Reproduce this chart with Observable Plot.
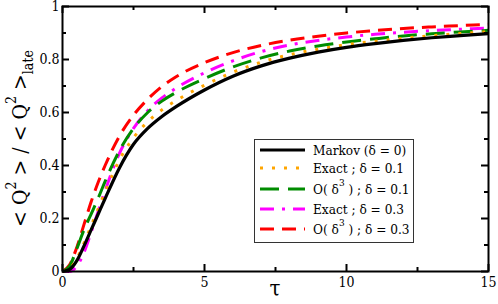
<!DOCTYPE html>
<html>
<head>
<meta charset="utf-8">
<script src="https://cdn.jsdelivr.net/npm/d3@7"></script>
<script src="https://cdn.jsdelivr.net/npm/@observablehq/plot@0.6"></script>
<style>
  html, body { margin: 0; padding: 0; background: #fff; }
  #chart { width: 498px; height: 304px; }
  #chart svg text { font-stretch: semi-condensed; }
</style>
</head>
<body>
<div id="chart"></div>
<script>
// ---- data ----
const tau      = [0, 0.25, 0.5, 0.75, 1, 1.25, 1.5, 2, 2.5, 3, 3.5, 4, 5, 6, 7, 8, 9, 10, 11, 12, 13, 14, 15];
const markov   = [0, 0.008, 0.04, 0.095, 0.155, 0.215, 0.275, 0.39, 0.48, 0.54, 0.585, 0.622, 0.685, 0.737, 0.776, 0.805, 0.828, 0.846, 0.86, 0.872, 0.882, 0.89, 0.898];
const exact01  = [0, 0.01, 0.048, 0.105, 0.17, 0.235, 0.30, 0.42, 0.505, 0.565, 0.61, 0.645, 0.703, 0.752, 0.79, 0.818, 0.839, 0.856, 0.869, 0.88, 0.89, 0.898, 0.905];
const o3d01    = [0, 0.02, 0.085, 0.155, 0.215, 0.275, 0.34, 0.455, 0.54, 0.60, 0.643, 0.676, 0.728, 0.772, 0.806, 0.832, 0.851, 0.866, 0.878, 0.889, 0.897, 0.904, 0.91];
const exact03  = [0, 0.0, 0.02, 0.07, 0.145, 0.225, 0.305, 0.445, 0.54, 0.607, 0.655, 0.692, 0.75, 0.795, 0.83, 0.855, 0.872, 0.885, 0.895, 0.903, 0.909, 0.914, 0.919];
const o3d03    = [0, 0.025, 0.09, 0.175, 0.26, 0.335, 0.40, 0.51, 0.59, 0.65, 0.698, 0.735, 0.788, 0.826, 0.853, 0.873, 0.888, 0.90, 0.909, 0.917, 0.923, 0.928, 0.933];

const xMajor = [0, 5, 10, 15];
const xMinor = [2.5, 7.5, 12.5];
const yMajor = [0, 0.2, 0.4, 0.6, 0.8, 1];
const yMinor = [0.1, 0.3, 0.5, 0.7, 0.9];

const seriesNames = ["Markov (δ = 0)", "Exact ; δ = 0.1", "O( δ3 ) ; δ = 0.1", "Exact ; δ = 0.3", "O( δ3 ) ; δ = 0.3"];
const seriesValues = [markov, exact01, o3d01, exact03, o3d03];

// ---- styles ----
const FONT = "DejaVu Serif";
const styles = [
  {stroke: "#000000", dash: null, width: 3.2},
  {stroke: "#FFA500", dash: "3,9", width: 3},
  {stroke: "#008C00", dash: "19,9", width: 3},
  {stroke: "#FF00FF", dash: "14,8,3,8", width: 3},
  {stroke: "#FF0000", dash: "14,8", width: 3}
];

const W = 498, H = 304;
const mL = 62, mR = 10, mT = 6, mB = 33;
const pw = W - mL - mR, ph = H - mT - mB;

const lineMarks = seriesValues.map((vals, i) => {
  const data = tau.map((t, j) => ({t, v: vals[j]}));
  return Plot.line(data, {
    x: "t", y: "v", curve: "monotone-x",
    stroke: styles[i].stroke, strokeWidth: styles[i].width,
    strokeDasharray: styles[i].dash, strokeLinecap: "butt", strokeLinejoin: "round"
  });
});

const fmtY = d => String(+d.toFixed(1));

const svg = Plot.plot({
  width: W, height: H,
  marginLeft: mL, marginRight: mR, marginTop: mT, marginBottom: mB,
  style: {fontFamily: FONT, fontSize: "14px", color: "#000", background: "#fff", overflow: "visible"},
  x: {domain: [0, 15]},
  y: {domain: [0, 1]},
  marks: [
    ...lineMarks.reverse(),
    Plot.tickX(xMajor, {x: d => d, insetTop: ph - 7, stroke: "#000", strokeWidth: 2}),
    Plot.tickX(xMajor, {x: d => d, insetBottom: ph - 7, stroke: "#000", strokeWidth: 2}),
    Plot.tickX(xMinor, {x: d => d, insetTop: ph - 4, stroke: "#000", strokeWidth: 2}),
    Plot.tickX(xMinor, {x: d => d, insetBottom: ph - 4, stroke: "#000", strokeWidth: 2}),
    Plot.tickY(yMajor, {y: d => d, insetRight: pw - 7, stroke: "#000", strokeWidth: 2}),
    Plot.tickY(yMajor, {y: d => d, insetLeft: pw - 7, stroke: "#000", strokeWidth: 2}),
    Plot.tickY(yMinor, {y: d => d, insetRight: pw - 4, stroke: "#000", strokeWidth: 2}),
    Plot.tickY(yMinor, {y: d => d, insetLeft: pw - 4, stroke: "#000", strokeWidth: 2}),
    Plot.axisX(xMajor, {tickSize: 0, tickPadding: 6, label: null, fontSize: 14}),
    Plot.axisY(yMajor, {tickSize: 0, tickPadding: 3, label: null, tickFormat: fmtY, fontSize: 14}),
    Plot.frame({stroke: "#000", strokeWidth: 2})
  ]
});

document.getElementById("chart").appendChild(svg);

const s = d3.select(svg);

// x label
s.append("text")
  .attr("x", mL + pw / 2).attr("y", 296)
  .attr("text-anchor", "middle")
  .style("font-family", FONT).style("font-size", "22px")
  .text("τ");

// y label
const yl = s.append("text")
  .attr("transform", `translate(27,${mT + ph / 2}) rotate(-90)`)
  .attr("text-anchor", "middle")
  .style("font-family", FONT).style("font-size", "21px");
yl.append("tspan").text("< Q");
yl.append("tspan").attr("dy", -11).style("font-size", "14px").text("2");
yl.append("tspan").attr("dy", 11).text(" > / < Q");
yl.append("tspan").attr("dy", -11).style("font-size", "14px").text("2");
yl.append("tspan").attr("dy", 11).text(" >");
yl.append("tspan").attr("dy", 6).style("font-size", "14px").text("late");

// legend
const lg = s.append("g").style("font-family", FONT).style("font-size", "13.5px").attr("text-anchor", "start");
lg.append("rect").attr("x", 254.5).attr("y", 139.5).attr("width", 159).attr("height", 103)
  .attr("fill", "#fff").attr("stroke", "#333").attr("stroke-width", 1);
const rowY = [150, 168, 189, 209, 229];
seriesNames.forEach((name, i) => {
  const y = rowY[i];
  lg.append("line").attr("x1", 260).attr("x2", 305).attr("y1", y).attr("y2", y)
    .attr("stroke", styles[i].stroke).attr("stroke-width", styles[i].width)
    .attr("stroke-dasharray", styles[i].dash);
  const t = lg.append("text").attr("x", 313).attr("y", y + 5).attr("text-anchor", "start");
  if (name.includes("δ3")) {
    const [a, b] = name.split("δ3");
    t.append("tspan").text(a + "δ");
    t.append("tspan").attr("dy", -8).style("font-size", "10px").text("3");
    t.append("tspan").attr("dy", 8).text(b);
  } else {
    t.text(name);
  }
});
</script>
</body>
</html>
